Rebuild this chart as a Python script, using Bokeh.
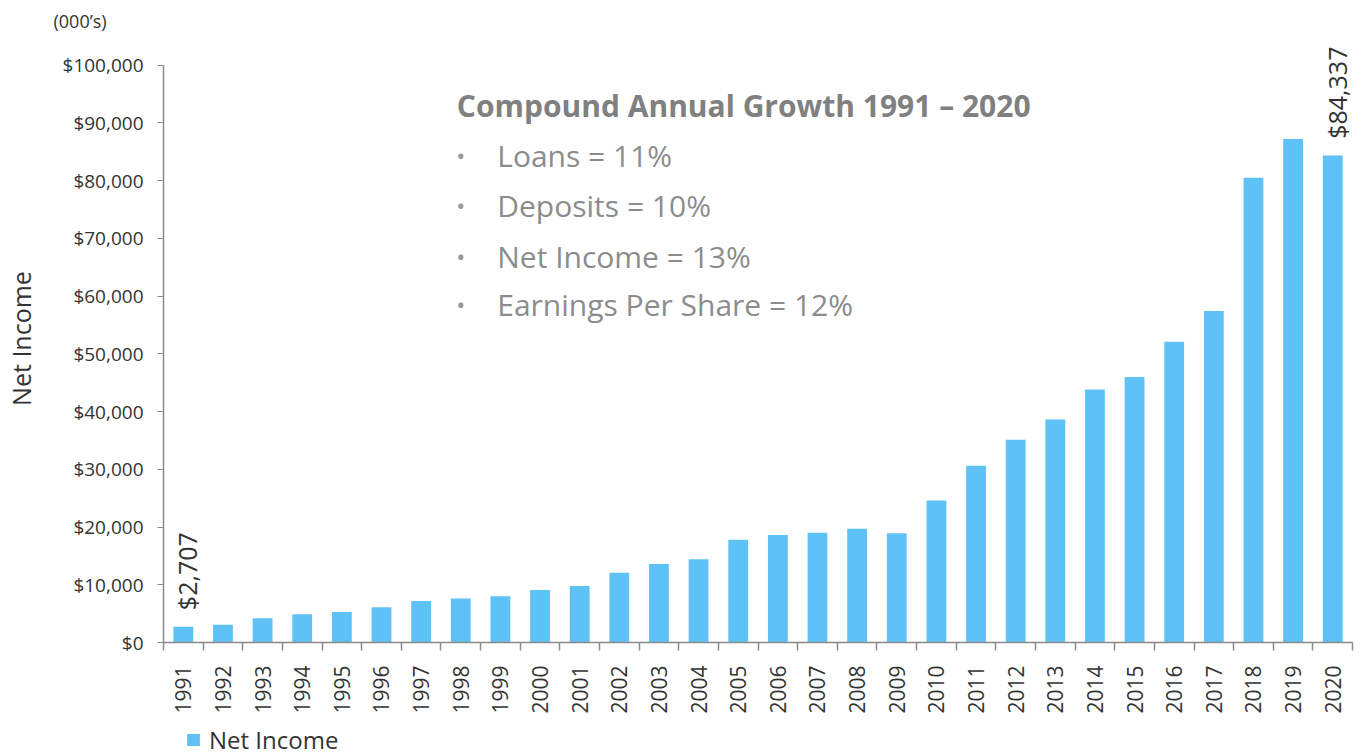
import math
from bokeh.plotting import figure
from bokeh.layouts import column
from bokeh.models import (Range1d, FixedTicker, NumeralTickFormatter, Label, Legend, LegendItem, Title)
from bokeh.embed import file_html
from bokeh.resources import INLINE

years = list(range(1991, 2021))
net_income = [2707, 3070, 4200, 4900, 5300, 6100, 7200, 7600, 8000, 9100,
              9800, 12100, 13600, 14400, 17800, 18600, 19000, 19700, 18900, 24600,
              30600, 35100, 38600, 43800, 46000, 52100, 57400, 80500, 87200, 84337]
y_ticks = list(range(0, 100001, 10000))
series_name = "Net Income"
units_note = "(000\u2019s)"
growth_title = "Compound Annual Growth 1991 \u2013 2020"
growth_items = ["Loans = 11%", "Deposits = 10%", "Net Income = 13%", "Earnings Per Share = 12%"]

FONT = "Open Sans"
BAR = "#5fc2f7"
AX = "#8a8a8a"
TXT = "#333333"
GREY = "#808080"

p = figure(width=1360, height=716, output_backend="svg", toolbar_location=None,
           x_range=Range1d(years[0] - 0.5, years[-1] + 0.7), y_range=Range1d(0, 105300),
           min_border_left=163, min_border_right=0, min_border_top=34, min_border_bottom=74)
p.outline_line_color = None
p.xgrid.visible = False
p.ygrid.visible = False

r = p.vbar(x=years, top=net_income, width=0.5, fill_color=BAR, line_color=None)

# units note above the y axis
p.add_layout(Title(text=units_note, align="left", offset=-110, standoff=3,
                   text_font=FONT, text_font_size="18px", text_font_style="normal",
                   text_color=TXT), "above")

# y axis
p.yaxis.bounds = (0, 100000)
p.yaxis.ticker = FixedTicker(ticks=y_ticks)
p.yaxis.formatter = NumeralTickFormatter(format="$0,0")
p.yaxis.axis_line_color = AX
p.yaxis.axis_line_width = 1.5
p.yaxis.major_tick_line_color = AX
p.yaxis.major_tick_out = 6
p.yaxis.major_tick_in = 0
p.yaxis.minor_tick_line_color = None
p.yaxis.major_label_text_font = FONT
p.yaxis.major_label_text_font_size = "19px"
p.yaxis.major_label_text_color = TXT
p.yaxis.major_label_standoff = 14
p.yaxis.axis_label = series_name
p.yaxis.axis_label_text_font = FONT
p.yaxis.axis_label_text_font_style = "normal"
p.yaxis.axis_label_text_font_size = "25px"
p.yaxis.axis_label_text_color = TXT
p.yaxis.axis_label_standoff = 22

# x axis: labels at centres, tick marks at boundaries
bounds = [y - 0.5 for y in years] + [years[-1] + 0.5]
p.xaxis.bounds = (years[0] - 0.5, years[-1] + 0.5)
p.xaxis.ticker = FixedTicker(ticks=years, minor_ticks=bounds)
p.xaxis.major_label_orientation = math.pi / 2
p.xaxis.axis_line_color = AX
p.xaxis.axis_line_width = 1.5
p.xaxis.major_tick_line_color = None
p.xaxis.minor_tick_line_color = AX
p.xaxis.minor_tick_line_width = 1.5
p.xaxis.minor_tick_out = 8
p.xaxis.minor_tick_in = 0
p.xaxis.major_label_text_font = FONT
p.xaxis.major_label_text_font_size = "21px"
p.xaxis.major_label_text_color = TXT
p.xaxis.major_label_standoff = 15

# data labels on first and last bars
for i in (0, len(years) - 1):
    v = net_income[i]
    p.add_layout(Label(x=years[i] + 0.1, y=v + 2900, text="${:,}".format(v), angle=math.pi / 2,
                       text_align="left", text_baseline="middle", text_font=FONT,
                       text_font_size="25px", text_color=TXT))

# growth annotation
p.add_layout(Label(x=1997.9, y=93000, text=growth_title, text_align="left", text_baseline="middle",
                   text_font=FONT, text_font_style="bold", text_font_size="30px", text_color=GREY))
ys = [84300, 75600, 66900, 58500]
for t, yy in zip(growth_items, ys):
    p.add_layout(Label(x=1998.0, y=yy, text="\u2022", text_align="center", text_baseline="middle",
                       text_font=FONT, text_font_size="24px", text_color="#999999"))
    p.add_layout(Label(x=1998.92, y=yy, text=t, text_align="left", text_baseline="middle",
                       text_font=FONT, text_font_size="30px", text_color="#8c8c8c"))

# legend strip below the chart (its frame is aligned with the chart's frame)
lg = figure(width=1360, height=40, output_backend="svg", toolbar_location=None,
            x_range=Range1d(0, 1), y_range=Range1d(0, 1), x_axis_type=None, y_axis_type=None,
            min_border=0, border_fill_color="white", background_fill_color="white")
lg.outline_line_color = None
lg.xgrid.visible = False
lg.ygrid.visible = False
lr = lg.vbar(x=[0.5], top=[0], bottom=[0], width=0.0, fill_color=BAR, line_color=None)
legend = Legend(items=[LegendItem(label=series_name, renderers=[lr])], location=(22, 0),
                orientation="horizontal", padding=0, margin=0, border_line_color=None,
                background_fill_alpha=0, glyph_width=16, glyph_height=15, label_standoff=8,
                label_text_font=FONT, label_text_font_size="24px", label_text_color=TXT)
lg.add_layout(legend, "center")

layout = column(p, lg, spacing=0)
open("out.html", "w").write(file_html(layout, INLINE))
